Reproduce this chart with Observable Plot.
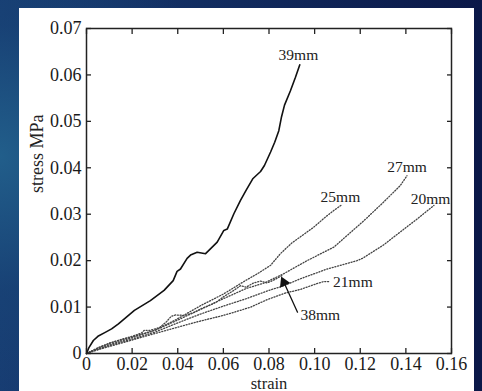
<!DOCTYPE html>
<html>
<head>
<meta charset="utf-8">
<script src="https://cdn.jsdelivr.net/npm/d3@7"></script>
<script src="https://cdn.jsdelivr.net/npm/@observablehq/plot@0.6"></script>
<style>
html, body { margin: 0; padding: 0; width: 482px; height: 391px; overflow: hidden; }
body {
  background-color: #0d1a4d;
  background-image:
    radial-gradient(ellipse 55% 75% at 0% 40%, rgba(34,96,140,0.95) 0%, rgba(25,70,120,0.55) 45%, rgba(13,26,77,0) 85%),
    linear-gradient(to right, #173c72, #0b1848);
}
#panel { position: absolute; left: 19px; top: 8px; width: 455px; height: 383px; background: #fff; }
#panel svg { overflow: visible; }
</style>
</head>
<body>
<div id="panel"></div>
<script>
// ---- data ----
const xTicks = [0, 0.02, 0.04, 0.06, 0.08, 0.10, 0.12, 0.14, 0.16];
const yTicks = [0, 0.01, 0.02, 0.03, 0.04, 0.05, 0.06, 0.07];

const s39x = [0,0.001,0.003,0.005,0.008,0.011,0.014,0.021,0.028,0.034,0.038,0.0397,0.0412,0.0441,0.0456,0.0485,0.0522,0.0573,0.0602,0.0617,0.0646,0.0675,0.070,0.073,0.0763,0.078,0.0807,0.0825,0.0843,0.0855,0.0868,0.0894,0.0916,0.0935];
const s39y = [0,0.0012,0.0028,0.0037,0.0045,0.0053,0.0064,0.0093,0.0114,0.0136,0.0157,0.0177,0.0182,0.0205,0.0212,0.0218,0.0215,0.0240,0.0265,0.0268,0.0301,0.0330,0.0352,0.0377,0.0392,0.0405,0.0434,0.0455,0.0480,0.0510,0.0535,0.0566,0.0595,0.0622];

const s25x = [0,0.005,0.01,0.02,0.03,0.04,0.05,0.06,0.065,0.07,0.075,0.0807,0.085,0.09,0.0996,0.105,0.1084,0.1121];
const s25y = [0,0.0012,0.0022,0.0036,0.0050,0.0075,0.0103,0.0128,0.0143,0.0158,0.0172,0.0190,0.0215,0.0238,0.0272,0.0295,0.0308,0.0321];

const s27x = [0,0.005,0.01,0.02,0.03,0.04,0.05,0.06,0.07,0.078,0.0865,0.0938,0.0967,0.1084,0.1216,0.13,0.1376,0.1405];
const s27y = [0,0.0010,0.0019,0.0034,0.0050,0.0072,0.0095,0.0118,0.0140,0.0152,0.0172,0.0192,0.0200,0.0229,0.0286,0.0325,0.0362,0.0383];

const s20x = [0,0.005,0.01,0.02,0.03,0.04,0.05,0.06,0.07,0.08,0.0865,0.0938,0.1055,0.1186,0.1210,0.1300,0.1376,0.1450,0.1523];
const s20y = [0,0.0009,0.0017,0.0031,0.0046,0.0066,0.0085,0.0102,0.0118,0.0136,0.0146,0.0161,0.0182,0.0200,0.0205,0.0233,0.0262,0.0290,0.0319];

const s21x = [0,0.005,0.01,0.0207,0.03,0.0365,0.05,0.06,0.0675,0.072,0.0792,0.087,0.0938,0.1007,0.104,0.1066];
const s21y = [0,0.0008,0.0015,0.0030,0.0043,0.0052,0.0070,0.0082,0.0093,0.0100,0.0116,0.0130,0.0138,0.0150,0.0155,0.0155];

const s38x = [0,0.005,0.01,0.015,0.02,0.024,0.0254,0.028,0.032,0.035,0.0371,0.039,0.043,0.047,0.05,0.055,0.0573,0.06,0.0646,0.0675,0.070,0.0733,0.0763,0.0792,0.082,0.0858];
const s38y = [0,0.0012,0.0022,0.0030,0.0037,0.0044,0.0050,0.0050,0.0056,0.0068,0.0080,0.0083,0.0082,0.0088,0.0096,0.0106,0.0112,0.0122,0.0136,0.0146,0.0143,0.0152,0.0156,0.0152,0.0158,0.0168];

const labelText = ["39mm", "25mm", "27mm", "20mm", "21mm", "38mm"];
const labelX    = [0.0929, 0.1113, 0.1405, 0.1508, 0.1081, 0.0938];
const labelY    = [0.0642, 0.0338, 0.0401, 0.0332, 0.01536, 0.0082];
const labelAnchor = ["middle", "middle", "middle", "middle", "start", "start"];

const arrowFrom = [0.0925, 0.0089];
const arrowTo   = [0.0858, 0.0161];

// ---- build tables ----
const zip = (xs, ys) => xs.map((x, i) => ({x, y: ys[i]}));
const dotted = [zip(s25x, s25y), zip(s27x, s27y), zip(s20x, s20y), zip(s21x, s21y), zip(s38x, s38y)];
const solid = zip(s39x, s39y);
const labels = labelText.map((t, i) => ({t, x: labelX[i], y: labelY[i], a: labelAnchor[i]}));
const fmt = d => d === 0 ? "0" : d.toFixed(2);
const font = "'Liberation Serif', 'DejaVu Serif', serif";

const chart = Plot.plot({
  width: 455,
  height: 383,
  marginLeft: 67,
  marginRight: 23,
  marginTop: 20,
  marginBottom: 38,
  style: {fontFamily: font, color: "#1a1a1a", background: "#fff"},
  x: {domain: [0, 0.16]},
  y: {domain: [0, 0.07]},
  marks: [
    ...dotted.map(d => Plot.line(d, {x: "x", y: "y", stroke: "#444", strokeWidth: 1.3, strokeDasharray: "1.1,1.7"})),
    Plot.line(solid, {x: "x", y: "y", stroke: "#111", strokeWidth: 1.6}),
    Plot.arrow([{x1: arrowFrom[0], y1: arrowFrom[1], x2: arrowTo[0], y2: arrowTo[1]}],
      {x1: "x1", y1: "y1", x2: "x2", y2: "y2", stroke: "#111", strokeWidth: 1.3, headLength: 0}),
    Plot.dot([{x: arrowTo[0], y: arrowTo[1]}], {x: "x", y: "y", symbol: "triangle", r: 4.2, fill: "#111", stroke: "none", rotate: -24, dx: 1.6, dy: 3.6}),
    Plot.text(labels.filter(d => d.a === "middle"), {x: "x", y: "y", text: "t", textAnchor: "middle", fontSize: 15.5, fill: "#222"}),
    Plot.text(labels.filter(d => d.a === "start"), {x: "x", y: "y", text: "t", textAnchor: "start", fontSize: 15.5, fill: "#222"}),
    Plot.frame({stroke: "#222", strokeWidth: 1.5}),
    // inward ticks on all four sides
    Plot.axisX(xTicks, {anchor: "bottom", tickSize: -5, text: null, label: null, stroke: "#222", strokeWidth: 1.3}),
    Plot.axisX(xTicks, {anchor: "top", tickSize: -5, text: null, label: null, stroke: "#222", strokeWidth: 1.3}),
    Plot.axisY(yTicks, {anchor: "left", tickSize: -5, text: null, label: null, stroke: "#222", strokeWidth: 1.3}),
    Plot.axisY(yTicks, {anchor: "right", tickSize: -5, text: null, label: null, stroke: "#222", strokeWidth: 1.3}),
    // tick labels
    Plot.axisX(xTicks, {anchor: "bottom", tickSize: 0, tickPadding: 4, tickFormat: fmt, fontSize: 18, label: null, fill: "#1a1a1a"}),
    Plot.axisY(yTicks, {anchor: "left", tickSize: 0, tickPadding: 5, tickFormat: fmt, fontSize: 18, label: null, fill: "#1a1a1a"}),
    // axis titles
    Plot.text(["strain"], {frameAnchor: "bottom", lineAnchor: "bottom", dy: 35, text: d => d, fontSize: 16.5, fill: "#222"}),
    Plot.text(["stress MPa"], {frameAnchor: "left", dx: -49, dy: 2, rotate: -90, text: d => d, fontSize: 18, fill: "#222"})
  ]
});
document.getElementById("panel").appendChild(chart);
</script>
</body>
</html>
